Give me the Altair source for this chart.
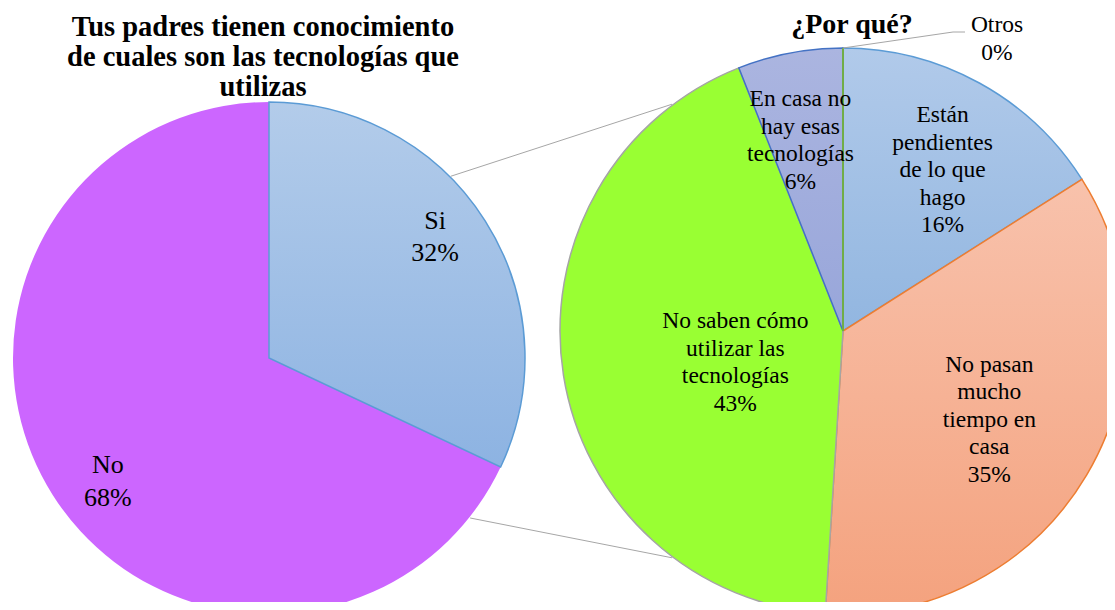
import math
import altair as alt
import pandas as pd

# ---------------- data ----------------
left_title = "Tus padres tienen conocimiento\nde cuales son las tecnologías que\nutilizas"
right_title = "¿Por qué?"

left_categories = ["Si", "No"]
left_values = [32, 68]
left_display = ["Si", "No"]

right_categories = [
    "Están pendientes de lo que hago",
    "No pasan mucho tiempo en casa",
    "No saben cómo utilizar las tecnologías",
    "En casa no hay esas tecnologías",
    "Otros",
]
right_values = [16, 35, 43, 6, 0]
right_display = [
    "Están\npendientes\nde lo que\nhago",
    "No pasan\nmucho\ntiempo en\ncasa",
    "No saben cómo\nutilizar las\ntecnologías",
    "En casa no\nhay esas\ntecnologías",
    "Otros",
]

# ---------------- tables ----------------
def make_df(cats, vals, disp):
    return pd.DataFrame({
        "category": cats,
        "value": vals,
        "order": list(range(len(cats))),
        "label": [f"{d}\n{v}%" for d, v in zip(disp, vals)],
    })

left_df = make_df(left_categories, left_values, left_display)
right_df = make_df(right_categories, right_values, right_display)

# ---------------- layout (chart coords = page coords - 8) ----------------
W, H = 1099, 594
L_CX, L_CY, L_R = 261, 350, 256
R_CX, R_CY, R_R = 835, 323, 283
FONT = "Liberation Serif"

theta_scale = alt.Scale(domain=[0, 100], range=[0, 2 * math.pi])


def prepared(df):
    return (
        alt.Chart(df)
        .transform_window(cum="sum(value)", sort=[alt.SortField("order")], frame=[None, 0])
        .transform_calculate(start="datum.cum - datum.value", mid="datum.cum - datum.value / 2")
    )


def grad(top, bottom):
    return alt.Gradient(
        gradient="linear",
        stops=[alt.GradientStop(color=top, offset=0), alt.GradientStop(color=bottom, offset=1)],
        x1=0, x2=0, y1=0, y2=1,
    )


def slice_layer(df, cat, cx, cy, r, fill, stroke=None, sw=1.5):
    kw = dict(outerRadius=r, fill=fill)
    if stroke is not None:
        kw.update(stroke=stroke, strokeWidth=sw)
    else:
        kw.update(strokeWidth=0)
    return (
        prepared(df)
        .transform_filter(alt.datum.category == cat)
        .mark_arc(**kw)
        .encode(
            theta=alt.Theta("start:Q", scale=theta_scale, stack=None),
            theta2="cum:Q",
            x=alt.value(cx),
            y=alt.value(cy),
        )
    )


def label_layer(df, cat, cx, cy, radius, dx, dy, size, lh):
    label = df.loc[df["category"] == cat, "label"].iloc[0]
    n = label.count("\n") + 1
    dy_total = dy - (n - 1) * lh / 2  # vega puts the first line at y
    return (
        prepared(df)
        .transform_filter(alt.datum.category == cat)
        .mark_text(
            radius=radius, dx=dx, dy=dy_total, font=FONT, fontSize=size, lineHeight=lh,
            lineBreak="\n", align="center", baseline="middle", color="black",
        )
        .encode(
            theta=alt.Theta("mid:Q", scale=theta_scale, stack=None),
            text="label:N",
            x=alt.value(cx),
            y=alt.value(cy),
        )
    )


def polar(cx, cy, r, deg):
    a = math.radians(deg)
    return cx + r * math.sin(a), cy - r * math.cos(a)


def rule(p1, p2, color="#A6A6A6", width=1):
    return (
        alt.Chart(pd.DataFrame({"k": [0]}))
        .mark_rule(color=color, strokeWidth=width)
        .encode(x=alt.value(p1[0]), y=alt.value(p1[1]), x2=alt.value(p2[0]), y2=alt.value(p2[1]))
    )


def title_layer(text, x, y_first, size, lh):
    return (
        alt.Chart(pd.DataFrame({"t": [text]}))
        .mark_text(font=FONT, fontSize=size, fontWeight="bold", lineHeight=lh, lineBreak="\n",
                   align="center", baseline="middle", color="black")
        .encode(text="t:N", x=alt.value(x), y=alt.value(y_first))
    )


layers = []

# left pie
layers.append(slice_layer(left_df, "No", L_CX, L_CY, L_R, "#CC66FF"))
layers.append(slice_layer(left_df, "Si", L_CX, L_CY, L_R, grad("#B3CCEA", "#8DB3E2"), "#5B9BD5"))

# right pie
layers.append(slice_layer(right_df, right_categories[0], R_CX, R_CY, R_R, grad("#B1CAEA", "#92B6E0"), "#5B9BD5"))
layers.append(slice_layer(right_df, right_categories[1], R_CX, R_CY, R_R, grad("#F8C2AC", "#F4A27E"), "#ED7D31"))
layers.append(slice_layer(right_df, right_categories[2], R_CX, R_CY, R_R, "#99FF33", "#A5A5A5"))
layers.append(slice_layer(right_df, right_categories[3], R_CX, R_CY, R_R, grad("#ABB5E0", "#98A6DA"), "#4472C4"))
layers.append(slice_layer(right_df, right_categories[4], R_CX, R_CY, R_R, "#70AD47", "#70AD47", 2))

# connectors between pies
layers.append(rule(polar(L_CX, L_CY, L_R + 1, 45), polar(R_CX, R_CY, R_R + 1, 323)))
layers.append(rule(polar(L_CX, L_CY, L_R + 1, 128.5), polar(R_CX, R_CY, R_R + 1, 217)))

# leader line for "Otros"
top_pt = polar(R_CX, R_CY, R_R, 0)
layers.append(rule(top_pt, (top_pt[0] + 110, top_pt[1] - 16)))
layers.append(rule((top_pt[0] + 110, top_pt[1] - 16), (top_pt[0] + 122, top_pt[1] - 16)))

# labels
layers.append(label_layer(left_df, "Si", L_CX, L_CY, 205, -7, -11, 26, 32))
layers.append(label_layer(left_df, "No", L_CX, L_CY, 205, 12, 14, 26, 33))
layers.append(label_layer(right_df, right_categories[0], R_CX, R_CY, 188, 9, 4, 23.5, 27.5))
layers.append(label_layer(right_df, right_categories[1], R_CX, R_CY, 170, 0, 2, 23.5, 27.5))
layers.append(label_layer(right_df, right_categories[2], R_CX, R_CY, 112, 3, 14, 23.5, 27.5))
layers.append(label_layer(right_df, right_categories[3], R_CX, R_CY, 195, -6, 1, 23.5, 27.5))
layers.append(label_layer(right_df, right_categories[4], R_CX, R_CY, 292, 154, 0, 23.5, 28))

# titles
layers.append(title_layer(left_title, 255, 19, 28.5, 30))
layers.append(title_layer(right_title, 844, 17, 28, 30))

chart = (
    alt.layer(*layers)
    .properties(width=W, height=H, padding=0, autosize=alt.AutoSizeParams(type="none"), background="white")
    .configure_view(stroke=None)
)

chart.save("out.html", embed_options={"renderer": "svg", "actions": False})
